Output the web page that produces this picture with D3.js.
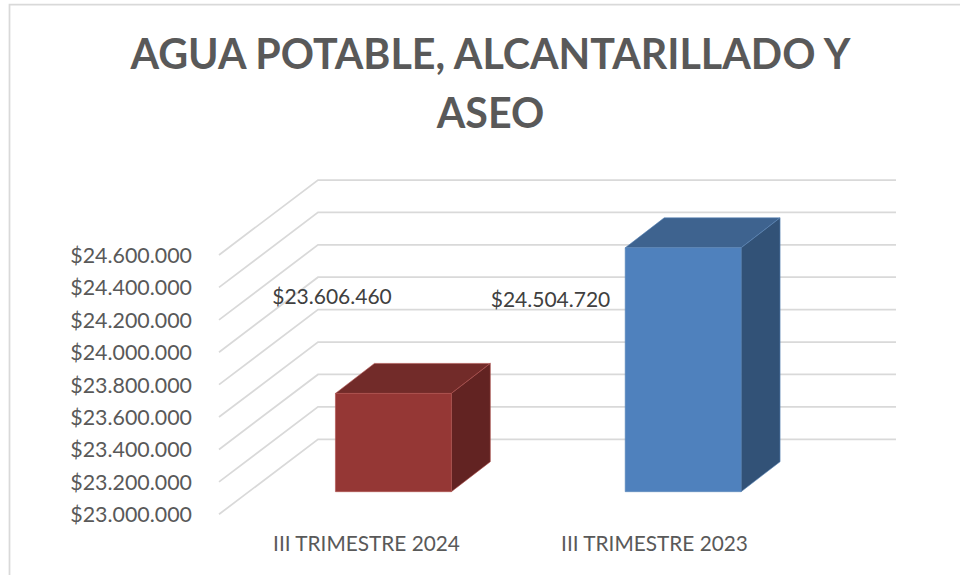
<!DOCTYPE html>
<html><head><meta charset="utf-8">
<script src="https://cdn.jsdelivr.net/npm/d3@7"></script>
<style>html,body{margin:0;padding:0;background:#fff}svg{display:block}text{font-family:Lato,sans-serif}</style>
</head><body><svg id="c" width="960" height="575"></svg>
<script>
const titleLines = ["AGUA POTABLE, ALCANTARILLADO Y", "ASEO"];
const categories = ["III TRIMESTRE 2024", "III TRIMESTRE 2023"];
const values = [23606460, 24504720];
const tickValues = [23000000,23200000,23400000,23600000,23800000,24000000,24200000,24400000,24600000];
const frontColors = ["#953735", "#4f81bd"];
const topColors = ["#722b29", "#3e638f"];
const sideColors = ["#622322", "#325277"];
const edgeColors = ["#b0504e", "#5b86b8"];

const fmt = v => "$" + d3.format(",")(v).replace(/,/g, ".");
const svg = d3.select("#c");
const depthX = 99, depthY = 75;           // floor depth of the 3D box
const y = d3.scaleLinear().domain([23000000, 24600000]).range([514.3, 255]);
const x = d3.scaleBand().domain(categories).range([248.5, 828]).paddingInner(0.6).paddingOuter(0.3);

// chart frame
svg.append("path").attr("d","M9.5,575V4.5H960").attr("fill","none").attr("stroke","#d9d9d9").attr("stroke-width",1.75);

// title
svg.append("g").selectAll("text").data(titleLines).join("text")
  .attr("x",490.5).attr("y",(d,i)=>69+i*59).attr("text-anchor","middle")
  .attr("font-size",41.2).attr("font-weight",700).attr("fill","#595959").text(d=>d);

// gridlines
svg.append("g").selectAll("path").data(tickValues).join("path")
  .attr("d",d=>`M219,${y(d)}L${219+depthX},${y(d)-depthY}H896`)
  .attr("fill","none").attr("stroke","#d9d9d9").attr("stroke-width",1.75);

// value axis
svg.append("g").selectAll("text").data(tickValues).join("text")
  .attr("x",192).attr("y",d=>y(d)+8).attr("text-anchor","end")
  .attr("font-size",21.4).attr("fill","#595959").text(fmt);

// 3D bars
const dx = 39, dy = 30, lift = 22.6;
const bars = svg.append("g").selectAll("g").data(categories).join("g");
bars.each(function(c,i){
  const g = d3.select(this);
  const x0 = x(c), x1 = x0 + x.bandwidth(), t = y(values[i]) - lift, b = y.range()[0] - lift;
  const face = (pts,fill)=>g.append("polygon").attr("points",pts.map(p=>p.join(",")).join(" "))
    .attr("fill",fill).attr("stroke",edgeColors[i]).attr("stroke-width",0.6);
  face([[x0,t],[x0+dx,t-dy],[x1+dx,t-dy],[x1,t]],topColors[i]);
  face([[x1,t],[x1+dx,t-dy],[x1+dx,b-dy],[x1,b]],sideColors[i]);
  face([[x0,t],[x1,t],[x1,b],[x0,b]],frontColors[i]);
});

// data labels
const labelX = [332, 550.5], labelY = [304, 307];
svg.append("g").selectAll("text").data(values).join("text")
  .attr("x",(d,i)=>labelX[i]).attr("y",(d,i)=>labelY[i]).attr("text-anchor","middle")
  .attr("font-size",21).attr("fill","#404040").text(fmt);

// category axis
svg.append("g").selectAll("text").data(categories).join("text")
  .attr("x",(d,i)=>[366.5,654.5][i]).attr("y",551).attr("text-anchor","middle")
  .attr("font-size",20.8).attr("fill","#595959").text(d=>d);
</script></body></html>
